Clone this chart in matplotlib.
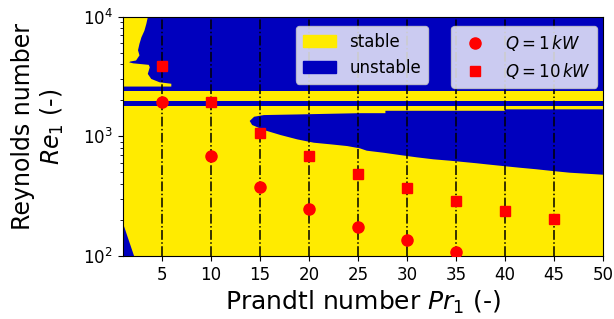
import numpy as np
import matplotlib.pyplot as plt
from matplotlib.patches import Patch
from matplotlib.lines import Line2D

YELLOW = '#FFEB00'
BLUE = '#0000BE'

# axis ranges
pr_min, pr_max = 1, 50
re_min, re_max = 1e2, 1e4

# ---- stability map boundaries ----
# above this Reynolds number everything is unstable (except the stable pocket)
re_unstable_top = 2400
# thin full-width unstable band
re_thin_band = [1800, 1990]

# stable pocket at the top left: right edge (Pr) as a function of Re
pocket_re = [10000, 8800, 7700, 6800, 6000, 5300, 4800, 4350, 4260, 4200, 4120, 4000,
             3820, 3360, 3050, 2860, 2780, 2634]
pocket_pr = [3.5, 3.35, 3.15, 2.85, 2.65, 2.5, 2.65, 2.3, 1.7, 1.6, 2.0, 3.6,
             3.7, 3.5, 3.85, 4.7, 5.9, 5.9]

# unstable lobe
lobe_upper_pr = [13.95, 14.4, 15.4, 18.8, 25.2, 27.8, 27.8, 40.0, 40.0, 50.0]
lobe_upper_re = [1345, 1459, 1507, 1525, 1563, 1563, 1636, 1636, 1683, 1683]
lobe_lower_pr = [13.95, 14.2, 15.4, 17.1, 18.8, 20.5, 22.2, 23.9, 25.2, 25.9, 27.6, 29.3,
                 31.0, 32.7, 34.4, 37.1, 38.1, 39.8, 41.5, 43.2, 44.9, 46.6, 49.3, 50.0]
lobe_lower_re = [1345, 1245, 1130, 1026, 944, 885, 858, 830, 794, 759, 730, 698,
                 668, 643, 626, 596, 584, 565, 547, 531, 513, 497, 482, 478]

# unstable corner at bottom left
corner_pr = [1.0, 2.15, 1.0]
corner_re = [190, 100, 100]

# operating points
pr_lines = [5, 10, 15, 20, 25, 30, 35, 40, 45]
pr_q1 = [5, 10, 15, 20, 25, 30, 35]
re_q1 = [1950, 689, 375, 245, 176, 136, 107]
pr_q10 = [5, 10, 15, 20, 25, 30, 35, 40, 45]
re_q10 = [3850, 1950, 1060, 689, 482, 368, 290, 238, 203]

x_ticks = [5, 10, 15, 20, 25, 30, 35, 40, 45, 50]

fig = plt.figure(figsize=(6.14, 3.19), dpi=100)
ax = fig.add_axes([0.2, 0.1975, 0.782, 0.75])
ax.set_yscale('log')
ax.set_xlim(pr_min, pr_max)
ax.set_ylim(re_min, re_max)
ax.set_facecolor(YELLOW)

ax.axhspan(re_unstable_top, re_max, color=BLUE, lw=0, zorder=1)
ax.fill_betweenx(pocket_re, pr_min, pocket_pr, color=YELLOW, lw=0, zorder=1.1)
ax.axhspan(re_thin_band[0], re_thin_band[1], color=BLUE, lw=0, zorder=1)
ax.fill(np.r_[lobe_upper_pr, lobe_lower_pr[::-1]],
        np.r_[lobe_upper_re, lobe_lower_re[::-1]], color=BLUE, lw=0, zorder=1)
ax.fill(corner_pr, corner_re, color=BLUE, lw=0, zorder=1)

for p in pr_lines:
    ax.axvline(p, color='black', ls='-.', lw=1.1, zorder=2)

ax.plot(pr_q1, re_q1, 'o', color='red', ms=8, zorder=3)
ax.plot(pr_q10, re_q10, 's', color='red', ms=7.5, zorder=3)

ax.set_xticks(x_ticks)
ax.tick_params(labelsize=12)
ax.set_xlabel('Prandtl number $Pr_1$ (-)', fontsize=18)
ax.set_ylabel('Reynolds number\n$Re_1$ (-)', fontsize=17)
ax.yaxis.set_label_coords(-0.118, 0.54)

h1 = [Patch(color=YELLOW, label='stable'), Patch(color=BLUE, label='unstable')]
leg1 = ax.legend(handles=h1, loc='upper left', bbox_to_anchor=(0.361, 0.961),
                 borderaxespad=0, fontsize=12)
ax.add_artist(leg1)
h2 = [Line2D([], [], marker='o', ls='none', color='red', ms=8, label=r'$Q=1\,kW$'),
      Line2D([], [], marker='s', ls='none', color='red', ms=7.5, label=r'$Q=10\,kW$')]
ax.legend(handles=h2, loc='upper left', bbox_to_anchor=(0.684, 0.961),
          borderaxespad=0, fontsize=12)

fig.savefig('out.png', dpi=100)
